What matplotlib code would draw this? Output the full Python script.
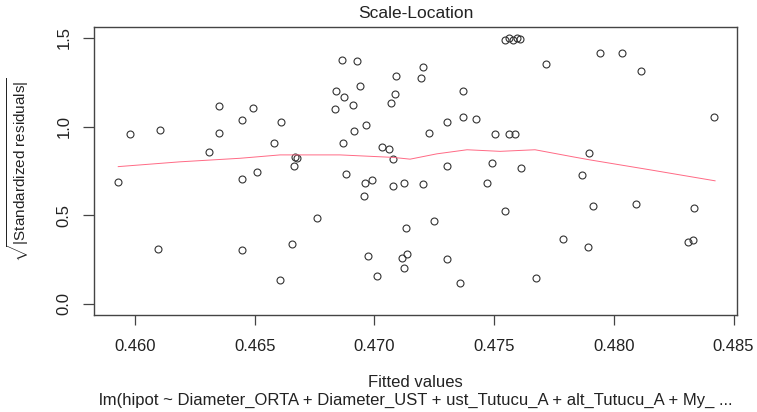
import matplotlib
matplotlib.use("Agg")
import matplotlib.pyplot as plt
import numpy as np

plt.rcParams['font.family'] = ['Liberation Sans', 'DejaVu Sans']
plt.rcParams['mathtext.fontset'] = 'custom'
plt.rcParams['mathtext.rm'] = 'Liberation Sans'
plt.rcParams['mathtext.it'] = 'Liberation Sans:italic'

# fitted values and sqrt(|standardized residuals|)
fitted = [0.45930, 0.45980, 0.46097, 0.46105, 0.46309, 0.46351, 0.46351, 0.46446,
          0.46446, 0.46446, 0.46494, 0.46508, 0.46581, 0.46610, 0.46606, 0.46655,
          0.46665, 0.46670, 0.46678, 0.46759, 0.46837, 0.46841, 0.46863, 0.46870,
          0.46872, 0.46880, 0.46911, 0.46916, 0.46926, 0.46939, 0.46958, 0.46961,
          0.46966, 0.46975, 0.46991, 0.47010, 0.47030, 0.47060, 0.47069, 0.47076,
          0.47076, 0.47086, 0.47090, 0.47115, 0.47124, 0.47124, 0.47131, 0.47137,
          0.47193, 0.47202, 0.47202, 0.47227, 0.47248, 0.47305, 0.47305, 0.47305,
          0.47359, 0.47369, 0.47369, 0.47424, 0.47472, 0.47490, 0.47504, 0.47545,
          0.47562, 0.47589, 0.47611, 0.47545, 0.47562, 0.47579, 0.47596, 0.47608,
          0.47675, 0.47717, 0.47789, 0.47868, 0.47891, 0.47896, 0.47912, 0.47942,
          0.48035, 0.48094, 0.48114, 0.48311, 0.48330, 0.48335, 0.48420]
sqrt_std_resid = [0.688, 0.957, 0.309, 0.983, 0.856, 1.113, 0.966, 1.034,
                  0.705, 0.305, 1.104, 0.745, 0.906, 1.023, 0.135, 0.340,
                  0.778, 0.826, 0.820, 0.485, 1.100, 1.201, 1.376, 0.906,
                  1.169, 0.735, 1.122, 0.972, 1.371, 1.226, 0.609, 0.681,
                  1.006, 0.269, 0.701, 0.160, 0.887, 0.874, 1.134, 0.816,
                  0.662, 1.183, 1.282, 0.259, 0.684, 0.205, 0.429, 0.280,
                  1.276, 1.338, 0.675, 0.966, 0.470, 0.778, 1.023, 0.254,
                  0.120, 1.201, 1.056, 1.042, 0.679, 0.797, 0.957, 0.525,
                  0.957, 0.957, 0.765, 1.490, 1.500, 1.485, 1.500, 1.492,
                  0.148, 1.354, 0.368, 0.724, 0.323, 0.850, 0.553, 1.414,
                  1.414, 0.562, 1.314, 0.350, 0.359, 0.540, 1.055]

# smoother (red line)
smooth_x = [0.45930, 0.46188, 0.46439, 0.46606, 0.46856, 0.47078, 0.47149, 0.47261,
            0.47387, 0.47525, 0.47671, 0.47830, 0.47900, 0.48151, 0.48423]
smooth_y = [0.774, 0.801, 0.821, 0.840, 0.840, 0.826, 0.816, 0.846,
            0.869, 0.860, 0.869, 0.829, 0.812, 0.756, 0.694]

xticks = [0.460, 0.465, 0.470, 0.475, 0.480, 0.485]
yticks = [0.0, 0.5, 1.0, 1.5]

txt = '#222222'

fig = plt.figure(figsize=(7.57, 4.12), dpi=100)
ax = fig.add_axes([0.12417, 0.23544, 0.84941, 0.69903])

ax.plot(fitted, sqrt_std_resid, 'o', mfc='none', mec='#333333', ms=5, mew=0.8)
ax.plot(smooth_x, smooth_y, color='#ff6a85', lw=0.7)

ax.set_xlim(0.458287, 0.485146)
ax.set_ylim(-0.062, 1.5606)
ax.set_xticks(xticks)
ax.set_xticklabels(['%.3f' % v for v in xticks])
ax.set_yticks(yticks)
ax.set_yticklabels(['%.1f' % v for v in yticks])

for s in ax.spines.values():
    s.set_color('#444444')
    s.set_linewidth(1.0)

ax.tick_params(axis='x', length=7, width=0.9, color='#444444', pad=10,
               labelsize=12, labelcolor=txt)
ax.tick_params(axis='y', length=8, width=0.9, color='#444444', pad=8,
               labelsize=12, labelcolor=txt)
for lab in ax.get_yticklabels():
    lab.set_rotation(90)
    lab.set_va('center')

fig.text(415.5 / 757, 1 - 13 / 412, 'Scale-Location', ha='center', va='center',
         fontsize=12.5, color=txt)
fig.text(415.5 / 757, 1 - 382.5 / 412, 'Fitted values', ha='center', va='center',
         fontsize=12, color=txt)
fig.text(415.5 / 757, 1 - 400 / 412,
         'lm(hipot ~ Diameter_ORTA + Diameter_UST + ust_Tutucu_A + alt_Tutucu_A + My_ ...',
         ha='center', va='center', fontsize=12, color=txt)
fig.text(18 / 757, 1 - 170 / 412, r'$\sqrt{|\mathrm{Standardized\ residuals}|}$',
         ha='center', va='center', rotation=90, fontsize=11, color=txt)

fig.savefig('out.png', dpi=100)
